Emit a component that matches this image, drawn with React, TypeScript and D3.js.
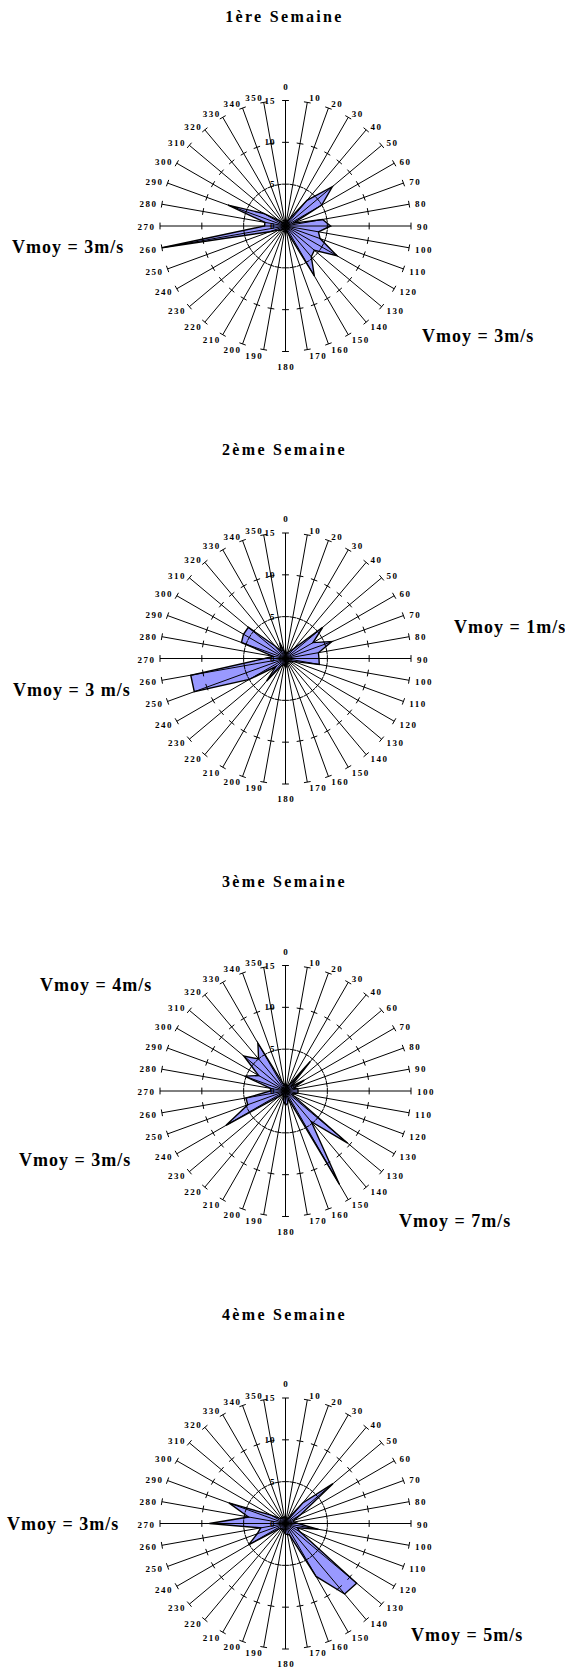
import React from "react";
import * as d3 from "d3";

// chart titles
const titles = ["1ère Semaine", "2ème Semaine", "3ème Semaine", "4ème Semaine"];

// direction labels, one per spoke (clockwise from north)
const dirStd = [
  "0", "10", "20", "30", "40", "50", "60", "70", "80", "90", "100", "110",
  "120", "130", "140", "150", "160", "170", "180", "190", "200", "210", "220", "230",
  "240", "250", "260", "270", "280", "290", "300", "310", "320", "330", "340", "350",
];
// the 3rd week sheet has its own (odd) labels
const dirWeek3 = [
  "0", "10", "20", "30", "40", "60", "70", "80", "90", "100", "110", "120",
  "130", "130", "140", "150", "160", "170", "180", "190", "200", "210", "220", "230",
  "240", "250", "260", "270", "280", "290", "300", "310", "320", "330", "340", "350",
];

// value axis
const valueTicks = [0, 5, 10, 15];
const valueMax = 15;

// wind frequencies per direction
const week1 = [
  0.5, 0.5, 0.5, 1.0, 4.0, 7.3, 5.0, 1.0, 4.5, 5.4, 4.0, 4.4,
  7.1, 4.5, 4.8, 6.9, 1.0, 0.5, 0.5, 0.5, 0.5, 0.5, 0.5, 0.8,
  1.0, 2.0, 15, 2.5, 2.5, 7.3, 3.0, 1.0, 0.5, 0.5, 0.5, 0.5,
];
const week2 = [
  0.5, 0.5, 0.8, 1.0, 1.5, 5.8, 3.8, 5.9, 4.0, 4.0, 4.1, 1.0,
  0.8, 0.5, 0.5, 0.5, 0.5, 1.0, 1.0, 0.8, 0.8, 1.0, 3.5, 1.5,
  5.0, 11.6, 11.5, 2.5, 1.5, 5.6, 5.8, 5.8, 2.0, 1.0, 2.0, 0.8,
];
const week3 = [
  0.8, 0.8, 0.5, 0.8, 4.6, 0.8, 2.6, 1.0, 1.5, 1.5, 1.5, 1.0,
  1.0, 9.7, 4.8, 12.9, 1.0, 1.5, 1.7, 1.2, 0.8, 0.5, 0.5, 1.0,
  8.2, 4.8, 4.8, 1.8, 1.8, 5.2, 3.7, 6.5, 5.0, 6.6, 1.0, 0.8,
];
const week4 = [
  0.8, 0.5, 0.5, 0.8, 3.2, 7.4, 2.0, 1.0, 1.0, 1.5, 4.0, 1.5,
  2.0, 11.1, 11.0, 7.3, 1.5, 1.3, 1.3, 1.0, 0.8, 0.8, 0.8, 1.0,
  5.1, 3.6, 3.0, 9.1, 4.5, 7.2, 2.0, 1.0, 0.8, 0.8, 0.8, 0.8,
];

// mean speed notes
const notes1 = ["Vmoy = 3m/s", "Vmoy = 3m/s"];
const notes2 = ["Vmoy = 1m/s", "Vmoy = 3 m/s"];
const notes3 = ["Vmoy = 4m/s", "Vmoy = 3m/s", "Vmoy = 7m/s"];
const notes4 = ["Vmoy = 3m/s", "Vmoy = 5m/s"];

// layout
const W = 565;
const H = 1670;
const CX = 285.5;
const R = 125.5;
const centersY = [226, 658.5, 1091, 1523.5];
const notePos = [
  [[12, 253], [422, 342]],
  [[454, 633], [13, 696]],
  [[40, 991], [19, 1166], [399, 1227]],
  [[7, 1530], [411, 1641]],
];
const FONT = "'Liberation Serif', 'Times New Roman', serif";

const rScale = d3.scaleLinear().domain([0, valueMax]).range([0, R]);
const aScale = d3.scaleLinear().domain([0, 36]).range([0, 2 * Math.PI]);

const radial = d3
  .lineRadial<number>()
  .angle((_d, i) => aScale(i))
  .radius((d) => rScale(d))
  .curve(d3.curveLinearClosed);

function Rose({ cy, title, labels, values, notes, pos }) {
  const spokes = d3.range(36);
  const tickHalf = 3.4;
  return (
    <g>
      <text
        x={CX - 1}
        y={cy - 204}
        textAnchor="middle"
        fontSize={16}
        fontWeight="bold"
        letterSpacing={2.3}
        fontFamily={FONT}
      >
        {title}
      </text>

      <g transform={`translate(${CX},${cy})`}>
        {/* series fill under the axes */}
        <path d={radial(values)} fill="#9999ff" stroke="none" />

        {/* spokes + tick marks */}
        <g stroke="#000" strokeWidth={1} fill="none">
          {spokes.map((i) => {
            const a = aScale(i);
            const s = Math.sin(a);
            const c = Math.cos(a);
            return (
              <g key={i}>
                <line x1={0} y1={0} x2={R * s} y2={-R * c} />
                {valueTicks.slice(1).map((tv) => {
                  const px = rScale(tv) * s;
                  const py = -rScale(tv) * c;
                  return (
                    <line
                      key={tv}
                      x1={px - tickHalf * c}
                      y1={py - tickHalf * s}
                      x2={px + tickHalf * c}
                      y2={py + tickHalf * s}
                    />
                  );
                })}
              </g>
            );
          })}
        </g>

        {/* series outline */}
        <path d={radial(values)} fill="none" stroke="#000" strokeWidth={1.4} strokeLinejoin="miter" />

        {/* direction labels */}
        <g fontFamily={FONT} fontSize={9} fontWeight="bold" letterSpacing={1.5}>
          {spokes.map((i) => {
            const a = aScale(i);
            const s = Math.sin(a);
            const c = Math.cos(a);
            if (i === 0 || i === 18) {
              const y = i === 0 ? -R - 14 : R + 15;
              return (
                <text key={i} x={0.75} y={y} textAnchor="middle" dominantBaseline="central">
                  {labels[i]}
                </text>
              );
            }
            const rr = R + 5;
            return (
              <text
                key={i}
                x={rr * s + (i < 18 ? 1 : 0.5)}
                y={-rr * c + 1}
                textAnchor={i < 18 ? "start" : "end"}
                dominantBaseline="central"
              >
                {labels[i]}
              </text>
            );
          })}
        </g>

        {/* value axis labels */}
        <g fontFamily={FONT} fontSize={9} fontWeight="bold" letterSpacing={1} fill="#000">
          {valueTicks.map((v) => (
            <text key={v} x={-10} y={-rScale(v)} textAnchor="end" dominantBaseline="central">
              {v}
            </text>
          ))}
        </g>
      </g>

      <g fontFamily={FONT} fontSize={18} fontWeight="bold" letterSpacing={1}>
        {notes.map((t, k) => (
          <text key={k} x={pos[k][0]} y={pos[k][1]}>
            {t}
          </text>
        ))}
      </g>
    </g>
  );
}

export default function App() {
  const series = [week1, week2, week3, week4];
  const dirs = [dirStd, dirStd, dirWeek3, dirStd];
  const notes = [notes1, notes2, notes3, notes4];
  return (
    <svg
      width={W}
      height={H}
      viewBox={`0 0 ${W} ${H}`}
      style={{ position: "absolute", left: 0, top: 0, background: "#fff" }}
    >
      <rect width={W} height={H} fill="#fff" />
      {series.map((vals, k) => (
        <Rose
          key={k}
          cy={centersY[k]}
          title={titles[k]}
          labels={dirs[k]}
          values={vals}
          notes={notes[k]}
          pos={notePos[k]}
        />
      ))}
    </svg>
  );
}
